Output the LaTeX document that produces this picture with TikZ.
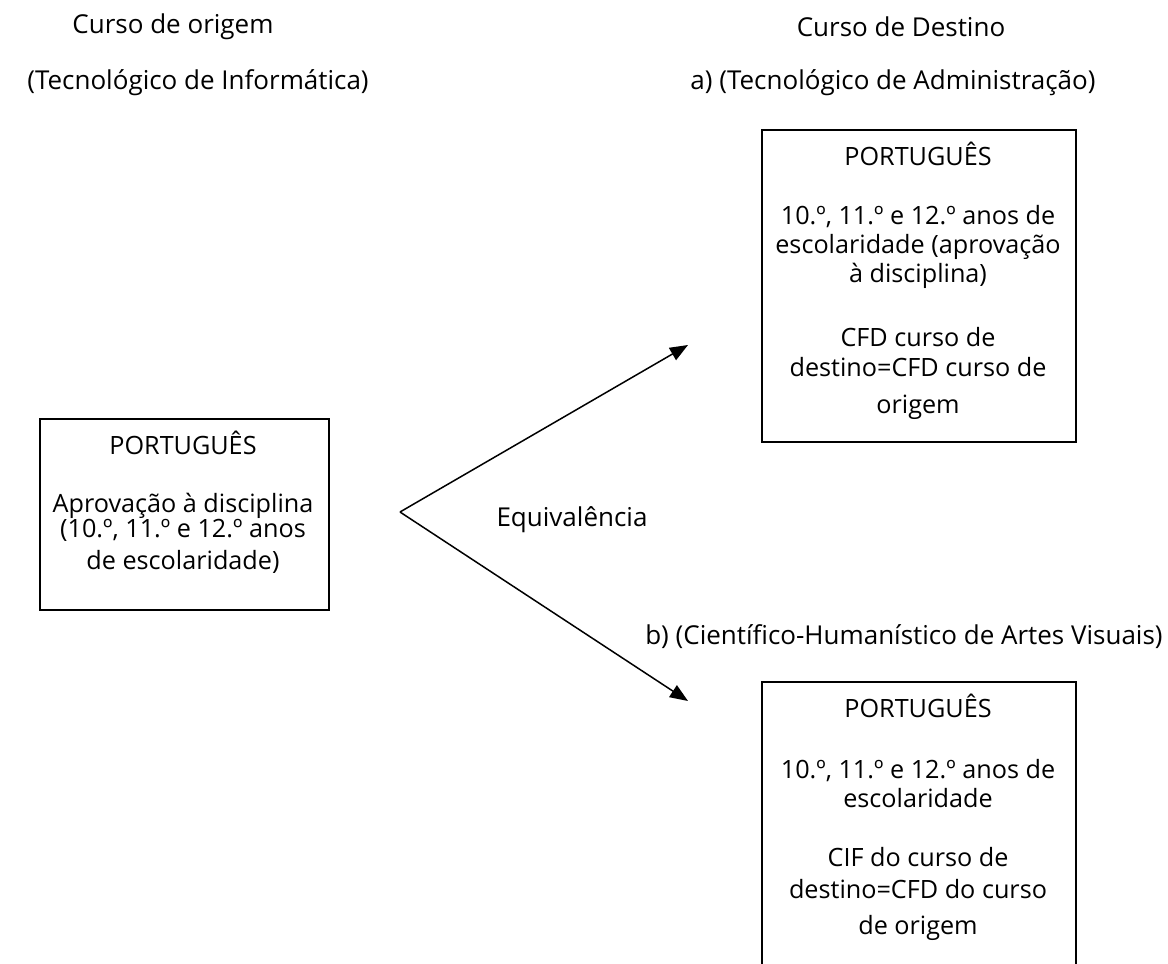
\documentclass[tikz,border=0pt]{standalone}
\usepackage{fontspec}
\setmainfont{Open Sans}
\usetikzlibrary{arrows.meta}
\begin{document}
\begin{tikzpicture}[x=0.5pt,y=-0.5pt,
  txt/.style={inner sep=0pt, font=\fontsize{12.6}{14.5}\selectfont, align=center},
  head/.style={inner sep=0pt, font=\fontsize{13}{15}\selectfont, align=center},
  box/.style={draw, line width=0.9pt, inner sep=0pt, anchor=north west},
  arr/.style={line width=0.75pt, -{Triangle[length=9pt,width=7pt]}}]
\clip (0,0) rectangle (1168,964);
% headings
\node[head] (h1) at (173,27) {Curso de origem};
\node[head] (h2) at (198,83) {(Tecnológico de Informática)};
\node[head] (h3) at (901,27) {Curso de Destino};
\node[head] (h4) at (893,83) {a) (Tecnológico de Administração)};
\node[head, anchor=east] (h5) at (1163,637) {b) (Científico-Humanístico de Artes Visuais)};
\node[head] (eq) at (572,520) {Equivalência};
% boxes
\node[box, minimum width=144.5pt, minimum height=95.5pt] (left) at (39,418) {};
\node[box, minimum width=157pt, minimum height=156pt] (ra) at (761,129) {};
\node[box, minimum width=157pt, minimum height=200pt] (rb) at (761,681) {};
% left box text
\node[txt] (l1) at (183,443) {PORTUGUÊS};
\node[txt] (l2) at (183,533) {Aprovação à disciplina\\[-2pt](10.º, 11.º e 12.º anos\\[1.5pt]de escolaridade)};
% top right text
\node[txt] (a1) at (918,154) {PORTUGUÊS};
\node[txt] (a2) at (918,247) {10.º, 11.º e 12.º anos de\\escolaridade (aprovação\\à disciplina)};
\node[txt] (a3) at (918,373) {CFD curso de\\[0.5pt]destino=CFD curso de\\[4pt]origem};
% bottom right text
\node[txt] (b1) at (918,706) {PORTUGUÊS};
\node[txt] (b2) at (918,784) {10.º, 11.º e 12.º anos de\\escolaridade};
\node[txt] (b3) at (918,894) {CIF do curso de\\[1.5pt]destino=CFD do curso\\[3.5pt]de origem};
% arrows
\coordinate (apex) at (400,512);
\coordinate (ta) at (688,345);
\coordinate (tb) at (688,701);
\draw[arr] (apex) -- (ta);
\draw[arr] (apex) -- (tb);
\end{tikzpicture}
\end{document}
